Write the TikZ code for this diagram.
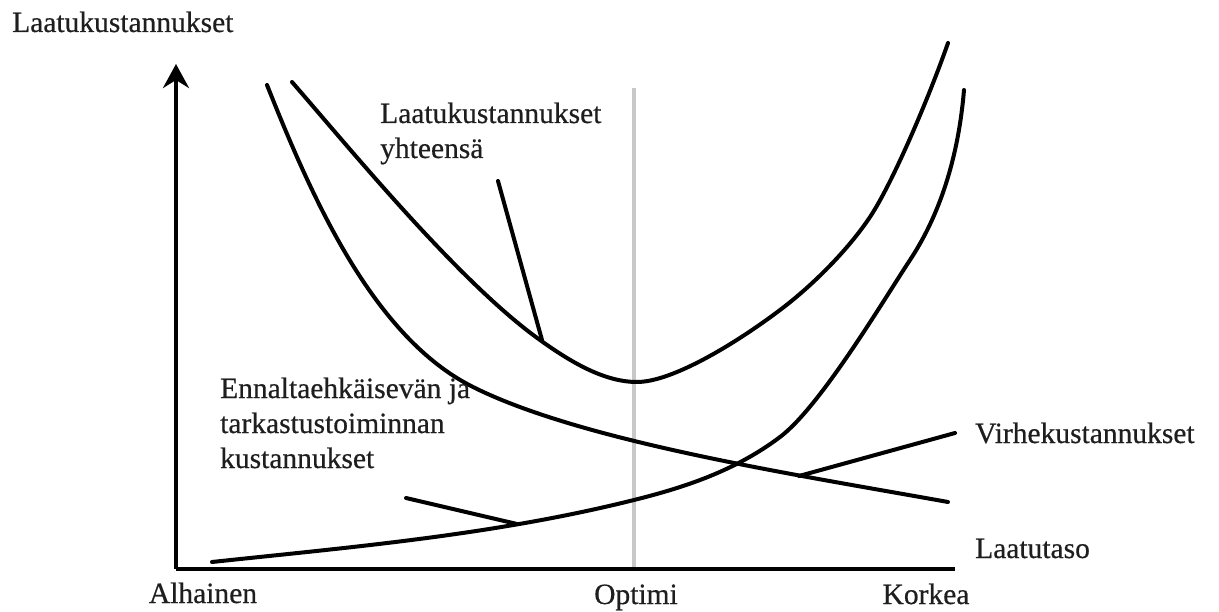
\documentclass[tikz,border=0pt]{standalone}
\usepackage{fontspec}
\setmainfont{Liberation Serif}[FakeBold=0.5]
\usetikzlibrary{arrows.meta}
\definecolor{txt}{RGB}{30,30,30}
\definecolor{optline}{RGB}{200,200,200}
\begin{document}
\begin{tikzpicture}[x=1pt,y=-1pt,
  lbl/.style={inner sep=0pt, text=txt, font=\fontsize{29.5}{35}\selectfont},
  axisline/.style={line width=4.5pt, black},
  curve/.style={line width=4pt, black, line cap=round},
  leader/.style={line width=4pt, black, line cap=round}]
\useasboundingbox (0,0) rectangle (1219,612);

% optimum marker
\draw[line width=4pt, optline] (634,88) -- (634,568);

% axes
\coordinate (origin) at (176,569);
\coordinate (ytip) at (176,64);
\coordinate (xend) at (955,569);
\draw[axisline, -{Stealth[length=24pt,width=26pt,inset=8pt]}] (origin) -- (ytip);
\draw[axisline] (origin) -- (xend);

% prevention and appraisal costs
\draw[curve] (267,85) .. controls (312,198) and (373,337) .. (473,387)
  .. controls (583,442) and (798,475) .. (948,502);
% total quality costs
\draw[curve] (292,82) .. controls (352,151) and (460,283) .. (540,340)
  .. controls (572,363) and (605,382) .. (637,382)
  .. controls (672,382) and (735,344) .. (780,310)
  .. controls (812,286) and (848,250) .. (870,217)
  .. controls (892,184) and (928,100) .. (948,43);
% failure costs
\draw[curve] (212,562) .. controls (352,547) and (494,535) .. (634,500)
  .. controls (684,487.5) and (735,471) .. (780,437)
  .. controls (820,407) and (883,301) .. (910,260)
  .. controls (943,210) and (959,150) .. (964,90);

% labels
\node[lbl, anchor=base west] (ylabel) at (12,32) {Laatukustannukset};
\node[lbl, anchor=base] (low) at (203,603) {Alhainen};
\node[lbl, anchor=base] (opt) at (636,604) {Optimi};
\node[lbl, anchor=base] (high) at (926,604) {Korkea};
\node[lbl, anchor=base west] (xlabel) at (975,558) {Laatutaso};
\node[lbl, anchor=base west] (fail) at (975,443) {Virhekustannukset};
\node[lbl, anchor=base west, align=left] (total) at (380,158) {Laatukustannukset\\yhteensä};
\node[lbl, anchor=base west, align=left] (prev) at (220,468) {Ennaltaehkäisevän ja\\tarkastustoiminnan\\kustannukset};

% leader lines
\coordinate (totalA) at (498,181);
\coordinate (totalB) at (542,340);
\coordinate (prevA) at (406,498);
\coordinate (prevB) at (517,524);
\coordinate (failA) at (955,433);
\coordinate (failB) at (799,476);
\draw[leader] (totalA) -- (totalB);
\draw[leader] (prevA) -- (prevB);
\draw[leader] (failA) -- (failB);
\end{tikzpicture}
\end{document}
